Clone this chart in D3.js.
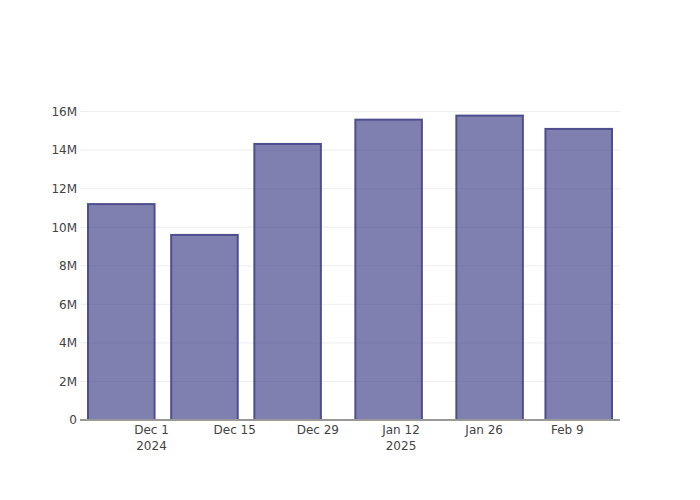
<!DOCTYPE html>
<html>
<head>
<meta charset="utf-8">
<script src="https://cdn.jsdelivr.net/npm/d3@7"></script>
<style>
  body { margin: 0; background: #fff; }
  svg { display: block; font-family: "DejaVu Sans", sans-serif; }
</style>
</head>
<body>
<svg id="chart" width="700" height="500"></svg>
<script>
const dates = ["2024-11-26", "2024-12-10", "2024-12-24", "2025-01-10", "2025-01-27", "2025-02-11"];
const values = [11200000, 9600000, 14320000, 15580000, 15790000, 15100000];
const xTickDates = ["2024-12-01", "2024-12-15", "2024-12-29", "2025-01-12", "2025-01-26", "2025-02-09"];
const xTickLabels = [["Dec 1", "2024"], ["Dec 15"], ["Dec 29"], ["Jan 12", "2025"], ["Jan 26"], ["Feb 9"]];
const yTicks = [0, 2000000, 4000000, 6000000, 8000000, 10000000, 12000000, 14000000, 16000000];
const yTickLabels = ["0", "2M", "4M", "6M", "8M", "10M", "12M", "14M", "16M"];

const DAY = 86400000;
const margin = { top: 100, right: 80, bottom: 80, left: 80 };
const W = 700, H = 500;
const svg = d3.select("#chart");
const FONT = '"DejaVu Sans", sans-serif';

const parse = d3.utcParse("%Y-%m-%d");
const dd = dates.map(parse);
const barDays = 0.8 * 14;
const padDays = 1.35;
const x = d3.scaleUtc()
  .domain([new Date(+dd[0] - (barDays / 2 + padDays) * DAY), new Date(+dd[dd.length - 1] + (barDays / 2 + padDays) * DAY)])
  .range([margin.left, W - margin.right]);
const y = d3.scaleLinear().domain([0, 16600000]).range([H - margin.bottom, margin.top]);

// grid
svg.append("g").selectAll("line").data(yTicks.slice(1)).join("line")
  .attr("x1", margin.left).attr("x2", W - margin.right)
  .attr("y1", d => y(d)).attr("y2", d => y(d))
  .attr("stroke", "#eeeeee").attr("stroke-width", 1);

// bars
svg.append("g").selectAll("rect").data(values).join("rect")
  .attr("x", (d, i) => x(new Date(+dd[i] - barDays / 2 * DAY)))
  .attr("width", (d, i) => x(new Date(+dd[i] + barDays / 2 * DAY)) - x(new Date(+dd[i] - barDays / 2 * DAY)))
  .attr("y", d => y(d))
  .attr("height", d => y(0) - y(d))
  .attr("fill", "rgb(50,50,128)").attr("fill-opacity", 0.62)
  .attr("stroke", "#4e4e8e").attr("stroke-width", 2);

// x axis line
svg.append("line")
  .attr("x1", margin.left).attr("x2", W - margin.right)
  .attr("y1", y(0)).attr("y2", y(0))
  .attr("stroke", "#999").attr("stroke-width", 2);

// y axis labels
const yAxis = d3.axisLeft(y).tickValues(yTicks).tickFormat((d, i) => yTickLabels[i]).tickSize(0).tickPadding(2);
const gy = svg.append("g").attr("transform", `translate(${margin.left - 1},0)`).call(yAxis);
gy.select(".domain").remove();
gy.selectAll("text").attr("fill", "#444").style("font-size", "12px").style("font-family", FONT);

// x axis labels
const xAxis = d3.axisBottom(x).tickValues(xTickDates.map(parse)).tickFormat("").tickSize(0);
const gx = svg.append("g").attr("transform", `translate(0,${y(0)})`).call(xAxis);
gx.select(".domain").remove();
gx.selectAll(".tick").each(function (d, i) {
  const t = d3.select(this).append("text")
    .attr("fill", "#444").attr("text-anchor", "middle")
    .style("font-size", "12px").style("font-family", FONT);
  xTickLabels[i].forEach((s, j) => {
    t.append("tspan").attr("x", 0).attr("y", 14 + j * 16).text(s);
  });
});
</script>
</body>
</html>
